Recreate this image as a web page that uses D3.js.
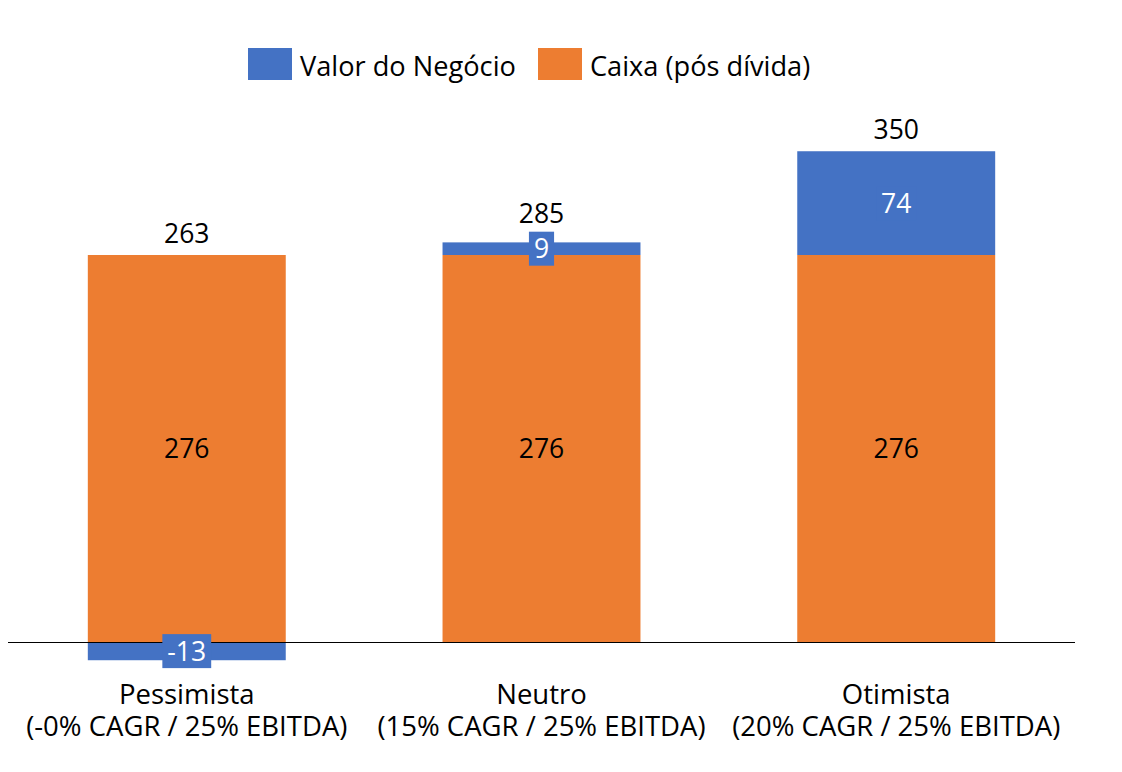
<!DOCTYPE html>
<html>
<head>
<meta charset="utf-8">
<script src="https://cdn.jsdelivr.net/npm/d3@7"></script>
<style>
  html, body { margin: 0; padding: 0; background: #fff; }
  svg { display: block; font-family: "Open Sans", "Noto Sans", sans-serif; }
</style>
</head>
<body>
<svg id="chart" width="1122" height="772"></svg>
<script>
const categories = ["Pessimista", "Neutro", "Otimista"];
const subtitles = ["(-0% CAGR / 25% EBITDA)", "(15% CAGR / 25% EBITDA)", "(20% CAGR / 25% EBITDA)"];
const seriesNames = ["Valor do Negócio", "Caixa (pós dívida)"];
const valorNegocio = [-13, 9, 74];
const caixa = [276, 276, 276];
const totals = [263, 285, 350];
const colors = ["#4472C4", "#ED7D31"];

const svg = d3.select("#chart");
const FS = 26.5;
const FS_AXIS = 27.5;
const FS_LEG = 27.2;

const x = d3.scaleBand().domain(categories).range([8, 1075]).paddingInner(0.442).paddingOuter(0.225);
const k = 387 / 276;
const y = d3.scaleLinear().domain([-50, 400]).range([642 + 50 * k, 642 - 400 * k]);

const rows = categories.map((c, i) => ({ cat: c, caixa: caixa[i], valor: valorNegocio[i] }));
const stack = d3.stack().keys(["caixa", "valor"]).offset(d3.stackOffsetDiverging);
const layers = stack(rows);
const colorOf = { caixa: colors[1], valor: colors[0] };

const g = svg.append("g");
layers.forEach(layer => {
  g.selectAll(null).data(layer).enter().append("rect")
    .attr("x", d => x(d.data.cat))
    .attr("width", x.bandwidth())
    .attr("y", d => y(Math.max(d[0], d[1])))
    .attr("height", d => Math.abs(y(d[0]) - y(d[1])))
    .attr("fill", colorOf[layer.key]);
});

// zero line
svg.append("line")
  .attr("x1", 8).attr("x2", 1075)
  .attr("y1", y(0) + 0.5).attr("y2", y(0) + 0.5)
  .attr("stroke", "#000").attr("stroke-width", 1);

// Caixa labels
const caixaLayer = layers[0];
svg.selectAll(null).data(caixaLayer).enter().append("text")
  .attr("x", d => x(d.data.cat) + x.bandwidth() / 2)
  .attr("y", d => (y(d[0]) + y(d[1])) / 2)
  .attr("dy", "0.36em")
  .attr("text-anchor", "middle")
  .attr("font-size", FS)
  .attr("fill", "#000")
  .text(d => d.data.caixa);

// Valor labels with background boxes
const valorLayer = layers[1];
const boxTops = [];
const vg = svg.selectAll(null).data(valorLayer).enter().append("g");
vg.each(function (d, i) {
  const cx = x(d.data.cat) + x.bandwidth() / 2;
  const cy = (y(d[0]) + y(d[1])) / 2;
  const grp = d3.select(this);
  const rect = grp.append("rect").attr("fill", colors[0]);
  const t = grp.append("text")
    .attr("x", cx).attr("y", cy).attr("dy", "0.36em")
    .attr("text-anchor", "middle")
    .attr("font-size", FS)
    .attr("fill", "#fff")
    .text(d.data.valor);
  const w = t.node().getComputedTextLength();
  rect.attr("x", cx - w / 2 - 5).attr("y", cy - 17).attr("width", w + 10).attr("height", 34);
  boxTops[i] = cy - 17;
});

// totals
svg.selectAll(null).data(rows).enter().append("text")
  .attr("x", d => x(d.cat) + x.bandwidth() / 2)
  .attr("y", (d, i) => Math.min(y(Math.max(caixa[i], totals[i])) - 12, boxTops[i] - 9))
  .attr("text-anchor", "middle")
  .attr("font-size", FS)
  .attr("fill", "#000")
  .text((d, i) => totals[i]);

// x axis labels
const xl = svg.selectAll(null).data(categories).enter().append("text")
  .attr("x", d => x(d) + x.bandwidth() / 2)
  .attr("y", 704)
  .attr("text-anchor", "middle")
  .attr("font-size", FS_AXIS)
  .attr("fill", "#000");
xl.append("tspan").attr("x", d => x(d) + x.bandwidth() / 2).text(d => d);
xl.append("tspan").attr("x", d => x(d) + x.bandwidth() / 2).attr("dy", 32).text((d, i) => subtitles[i]);

// legend
const legend = svg.append("g");
const legX = [248, 538];
seriesNames.forEach((n, i) => {
  legend.append("rect").attr("x", legX[i]).attr("y", 48).attr("width", 44).attr("height", 32).attr("fill", colors[i]);
  legend.append("text").attr("x", legX[i] + 52).attr("y", 76)
    .attr("font-size", FS_LEG).attr("fill", "#000").text(n);
});
</script>
</body>
</html>
